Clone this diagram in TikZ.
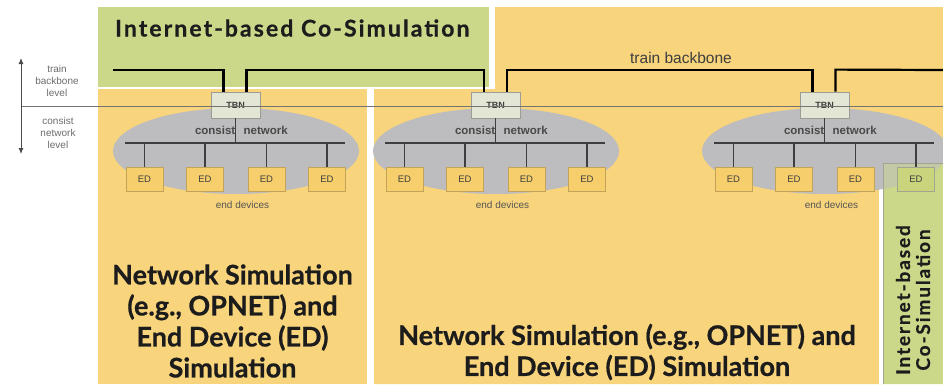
\documentclass[tikz,border=0pt]{standalone}
\usepackage{fontspec}
\setmainfont{Liberation Sans}
\newfontfamily\headfont{Lato}[FakeBold=0.6]
\newfontfamily\spacedfont{Lato}[LetterSpace=9,FakeBold=0.6]
\newfontfamily\sidefont{Lato}[LetterSpace=10,FakeBold=0.6]
\usetikzlibrary{arrows.meta,shapes.geometric}

\definecolor{sand}{HTML}{F8D47C}
\definecolor{leaf}{HTML}{CBD88A}
\definecolor{leafline}{HTML}{A2A690}
\definecolor{cloud}{HTML}{BDBDBF}
\definecolor{tbnfill}{HTML}{E3E5D5}
\definecolor{tbnline}{HTML}{9C9C94}
\definecolor{edfill}{HTML}{F6CF6C}
\definecolor{edline}{HTML}{C3A35A}
\definecolor{edgreen}{HTML}{C9D47C}
\definecolor{ink}{HTML}{1C1C1C}

\tikzset{
  cloudnet/.style={ellipse, fill=cloud, minimum width=246pt, minimum height=86pt, inner sep=0pt},
  tbnbox/.style={draw=tbnline, fill=tbnfill, line width=0.8pt, minimum width=49pt,
    minimum height=26pt, inner sep=0pt, font=\fontsize{9}{10}\selectfont\bfseries, text=ink!85},
  edbox/.style={draw=edline, fill=edfill, line width=0.8pt, minimum width=37pt,
    minimum height=24pt, inner sep=0pt, font=\fontsize{9.5}{10}\selectfont, text=ink!85},
  backbone/.style={line width=2.2pt, draw=black},
  busline/.style={line width=2pt, draw=ink!85},
  dropline/.style={line width=1.8pt, draw=ink!85},
  levelline/.style={line width=0.8pt, draw=gray!90!black},
  axisline/.style={line width=0.9pt, draw=gray!60!black,
    {Latex[length=6pt,width=5pt]}-{Latex[length=6pt,width=5pt]}},
  leafedge/.style={line width=0.8pt, draw=leafline},
  netlabel/.style={font=\fontsize{11.5}{12}\selectfont\bfseries, text=ink!80, inner sep=0.5pt},
  smalllabel/.style={font=\fontsize{10}{12}\selectfont, text=ink!75},
  levellabel/.style={font=\fontsize{10}{12}\selectfont, text=gray!85!black, align=center},
  simtext/.style={font=\headfont\bfseries\fontsize{27}{31}\selectfont, text=ink, align=center},
  cosimtext/.style={text=ink},
}

\begin{document}
\begin{tikzpicture}[x=1pt,y=-1pt]
\useasboundingbox (0,0) rectangle (943,384);
\clip (0,0) rectangle (943,384);
\fill[white] (0,0) rectangle (943,384);

% simulation domains
\fill[leaf] (98,7) rectangle (489,87);
\fill[sand] (98,89) rectangle (367,384);
\fill[sand] (374,384) -- (374,89) -- (495,89) -- (495,7) -- (943,7) -- (943,384) -- cycle;
\fill[white] (879,163) rectangle (883,384);
\fill[leaf] (883,163) rectangle (943,384);

% consist network clouds
\foreach \i/\cx in {1/236,2/496,3/825}
  \node[cloudnet] (cn\i) at (\cx,151) {};

% co-simulated part of the third consist
\begin{scope}
  \clip (883,163) rectangle (943,384);
  \fill[leaf, opacity=0.45] (cn3.center) ellipse [x radius=123pt, y radius=43pt];
\end{scope}
\draw[leafedge] (943,163) -- (883,163) -- (883,384);

% co-simulation title
\node[cosimtext, anchor=base west, inner sep=0pt,
      font={\spacedfont\bfseries\fontsize{23}{26}\selectfont}]
  (cotitle) at (115,36.5) {Internet-based Co-Simulation};

% consists: train backbone node, consist bus and end devices
\foreach \i/\cx/\lfill/\lline in {1/235.5/edfill/edline, 2/495.5/edfill/edline, 3/824.5/edgreen/leafline}{
  \node[tbnbox] (tbn\i) at (\cx,105) {TBN};
  \coordinate (busW\i) at (\cx-110.5,143);
  \coordinate (busE\i) at (\cx+109.5,143);
  \draw[busline] (busW\i) -- (busE\i);
  \draw[dropline] (tbn\i.south) -- (tbn\i.south |- busW\i);
  \node[netlabel, anchor=east] (cl\i) at (\cx+0.5,130) {consist};
  \node[netlabel, anchor=west] (nl\i) at (\cx+7.5,130) {network};
  \node[edbox] (ed\i a) at (\cx-91,179) {ED};
  \node[edbox] (ed\i b) at (\cx-30.5,179) {ED};
  \node[edbox] (ed\i c) at (\cx+31,179) {ED};
  \node[edbox, fill=\lfill, draw=\lline] (ed\i d) at (\cx+91.5,179) {ED};
  \foreach \k in {a,b,c,d}
    \draw[dropline] (ed\i\k.north) -- (ed\i\k.north |- busW\i);
  \node[smalllabel] (endd\i) at (\cx+7,205) {end devices};
}

% train backbone
\coordinate (bbW) at (113,70);
\coordinate (bbE) at (943,70);
\draw[backbone] (bbW) -| ([xshift=-12pt]tbn1.north);
\draw[backbone] ([xshift=11pt]tbn1.north) -- ++(0,-22) -| ([xshift=-11.5pt]tbn2.north);
\draw[backbone] ([xshift=11.5pt]tbn2.north) -- ++(0,-22) -| ([xshift=-12pt]tbn3.north);
\draw[backbone] ([xshift=11pt]tbn3.north) -- ++(0,-22) -- (bbE);
\node[font=\fontsize{15.5}{18}\selectfont, text=ink!85] (tbl) at (681,58) {train backbone};

% level separation and level axis
\coordinate (lvlW) at (21,106);
\coordinate (lvlE) at (943,106);
\draw[levelline] (lvlW) -- (lvlE);
\coordinate (axT) at (21,58);
\coordinate (axB) at (21,154);
\draw[axisline] (axT) -- (axB);
\node[levellabel] (upper) at (57,81) {train\\backbone\\level};
\node[levellabel] (lower) at (58,133) {consist\\network\\level};

% simulation domain captions
\node[simtext] (simL) at (232.5,321) {Network Simulation\\(e.g., OPNET) and\\End Device (ED)\\Simulation};
\node[simtext] (simM) at (627,352) {Network Simulation (e.g., OPNET) and\\End Device (ED) Simulation};
\node[cosimtext, rotate=90, align=center,
      font={\sidefont\bfseries\fontsize{19}{20}\selectfont}]
  (vtitle) at (913,300) {Internet-based\\Co-Simulation};
\end{tikzpicture}
\end{document}
